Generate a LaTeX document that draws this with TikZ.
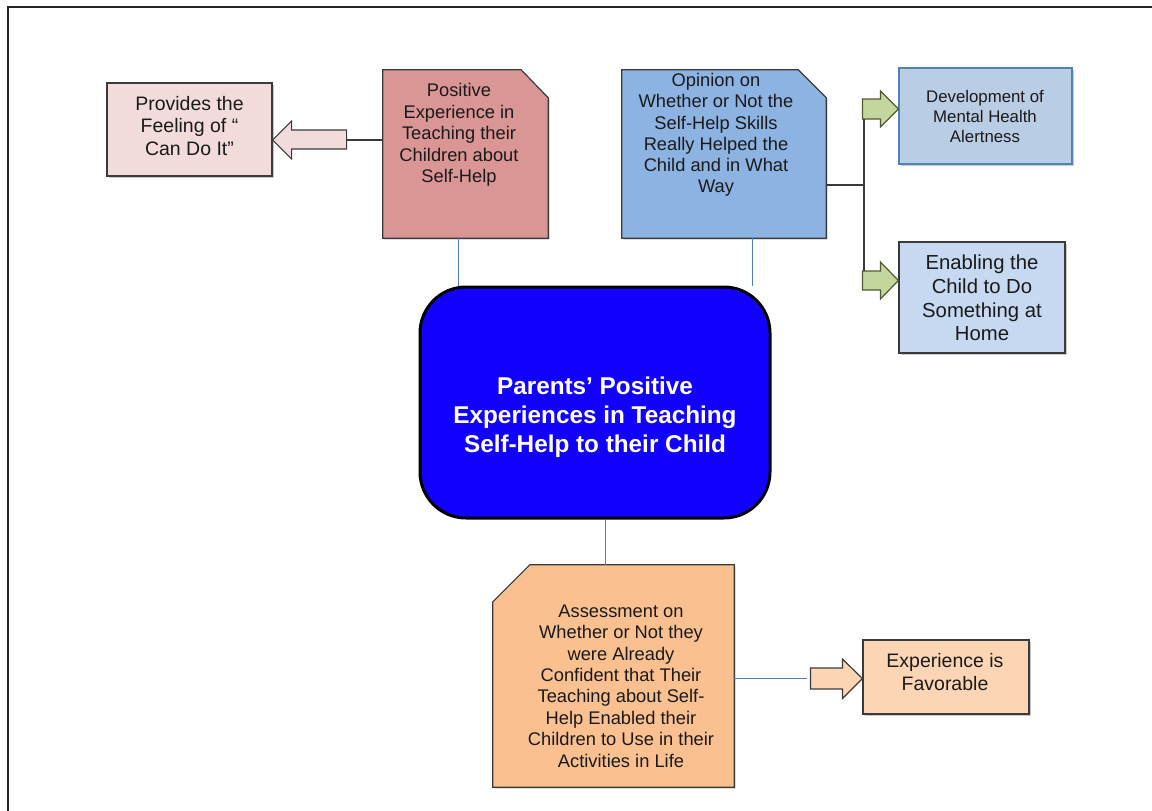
\documentclass[tikz,border=0pt]{standalone}
\usepackage{fontspec}
\setmainfont{Liberation Sans}
\usetikzlibrary{shadows}
\definecolor{provfill}{HTML}{F2DCDB}
\definecolor{pinkdoc}{HTML}{D99694}
\definecolor{bluedoc}{HTML}{8DB3E2}
\definecolor{devfill}{HTML}{B9CDE5}
\definecolor{devline}{HTML}{4F81BD}
\definecolor{enfill}{HTML}{C6D9F1}
\definecolor{greenarr}{HTML}{C3D69B}
\definecolor{greenline}{HTML}{4F5A35}
\definecolor{cblue}{HTML}{1200FF}
\definecolor{orangedoc}{HTML}{FAC090}
\definecolor{expfill}{HTML}{FCD5B5}
\definecolor{edge}{HTML}{3A3A3A}
\definecolor{conncol}{HTML}{4F81BD}
\definecolor{txtcol}{HTML}{1A1A1A}
\tikzset{
  shad/.style={drop shadow={shadow xshift=1.5pt, shadow yshift=-1.5pt, opacity=0.35, fill=black!60}},
  plainbox/.style={draw=edge, line width=1.2pt, shad, inner sep=0},
  carrier/.style={inner sep=0, draw=none},
  docpath/.style={draw=edge, line width=1.2pt, shad},
  txt/.style={align=center, text=txtcol, inner sep=0},
  connblue/.style={draw=conncol, line width=1pt},
  conndark/.style={draw=edge, line width=1.2pt},
  blockarrow/.style={draw=edge, line width=1.2pt, line join=miter}
}
\begin{document}
\begin{tikzpicture}[x=1pt,y=-1pt]
\useasboundingbox (0,0) rectangle (1152,811);
% frame
\draw[line width=2pt, black!85] (8,811) -- (8,7) -- (1152,7);

% --- plain boxes ---
\node[plainbox, fill=provfill, minimum width=165, minimum height=93] (prov) at (189.5,129.5) {};
\node[txt, font=\fontsize{19.5}{22.5}\selectfont] (provT) at (189.5,126) {Provides the\\Feeling of ``\\Can Do It''};

\node[plainbox, draw=devline, fill=devfill, minimum width=173, minimum height=96] (dev) at (985.5,116) {};
\node[txt, font=\fontsize{16.8}{20}\selectfont] (devT) at (985,116) {Development of\\Mental Health\\Alertness};

\node[plainbox, fill=enfill, minimum width=166, minimum height=111] (en) at (982,297.5) {};
\node[txt, font=\fontsize{20.3}{23.7}\selectfont] (enT) at (982,298) {Enabling the\\Child to Do\\Something at\\Home};

\node[plainbox, fill=expfill, minimum width=166, minimum height=74] (exp) at (946,677) {};
\node[txt, font=\fontsize{19.5}{23}\selectfont] (expT) at (945,672.5) {Experience is\\Favorable};

% --- document (chamfered) boxes ---
\node[carrier, minimum width=165, minimum height=168] (pink) at (465.5,154) {};
\path[docpath, fill=pinkdoc] (pink.north west) -- ([xshift=-27pt]pink.north east) -- ([yshift=-28pt]pink.north east) -- (pink.south east) -- (pink.south west) -- cycle;
\node[txt, font=\fontsize{18.3}{21.4}\selectfont] (pinkT) at (459,135) {Positive\\Experience in\\Teaching their\\Children about\\Self-Help};

\node[carrier, minimum width=204, minimum height=168] (blue) at (724,154) {};
\path[docpath, fill=bluedoc] (blue.north west) -- ([xshift=-28pt]blue.north east) -- ([yshift=-28pt]blue.north east) -- (blue.south east) -- (blue.south west) -- cycle;
\node[txt, font=\fontsize{18.3}{21.3}\selectfont] (blueT) at (716,135) {Opinion on\\Whether or Not the\\Self-Help Skills\\Really Helped the\\Child and in What\\Way};

\node[carrier, minimum width=241, minimum height=222] (orange) at (613.5,676) {};
\path[docpath, fill=orangedoc] ([xshift=37pt]orange.north west) -- (orange.north east) -- (orange.south east) -- (orange.south west) -- ([yshift=-37pt]orange.north west) -- cycle;
\node[txt, font=\fontsize{18.3}{21.4}\selectfont] (orangeT) at (621,686) {Assessment on\\Whether or Not they\\were Already\\Confident that Their\\Teaching about Self-\\Help Enabled their\\Children to Use in their\\Activities in Life};

% --- central node ---
\node[draw=black, line width=3pt, fill=cblue, rounded corners=46pt, minimum width=350, minimum height=231, inner sep=0] (center) at (595,402.5) {};
\node[align=center, text=white, inner sep=0, font=\bfseries\fontsize{24.3}{29}\selectfont] (centerT) at (595,417) {Parents’ Positive\\Experiences in Teaching\\Self-Help to their Child};

% --- connectors to centre ---
\draw[connblue] (458,0 |- pink.south) -- (458,0 |- center.north);
\draw[connblue] (752,0 |- blue.south) -- (752,0 |- center.north);
\draw[connblue] (605,0 |- center.south) -- (605,0 |- orange.north);

% --- left block arrow ---
\coordinate (lTail) at (347,140);
\draw[conndark] (pink.west |- lTail) -- (lTail);
\path[blockarrow, fill=provfill] (prov.east |- lTail) -- ++(19,-19) -- ++(0,9) -- ++(55,0) -- ++(0,19) -- ++(-55,0) -- ++(0,10) -- cycle;

% --- green arrows and bar ---
\coordinate (g1) at (862,109);
\coordinate (g2) at (862,280.5);
\coordinate (barJ) at (864,185);
\draw[conndark] (blue.east |- barJ) -- (barJ);
\path[blockarrow, draw=greenline, fill=greenarr] (dev.west |- g1) -- ++(-18,-18) -- ++(0,8) -- ++(-18,0) -- ++(0,20) -- ++(18,0) -- ++(0,8) -- cycle;
\path[blockarrow, draw=greenline, fill=greenarr] (en.west |- g2) -- ++(-18,-18.5) -- ++(0,9) -- ++(-18,0) -- ++(0,19) -- ++(18,0) -- ++(0,9) -- cycle;
\draw[line width=2.6pt, edge] (864,119) -- (864,271);

% --- orange arrow ---
\coordinate (oTail) at (807,678.5);
\draw[connblue] (orange.east |- oTail) -- (oTail);
\path[blockarrow, fill=expfill] (exp.west |- oTail) -- ++(-20,-19.5) -- ++(0,9) -- ++(-32,0) -- ++(0,21) -- ++(32,0) -- ++(0,9.5) -- cycle;
\end{tikzpicture}
\end{document}
